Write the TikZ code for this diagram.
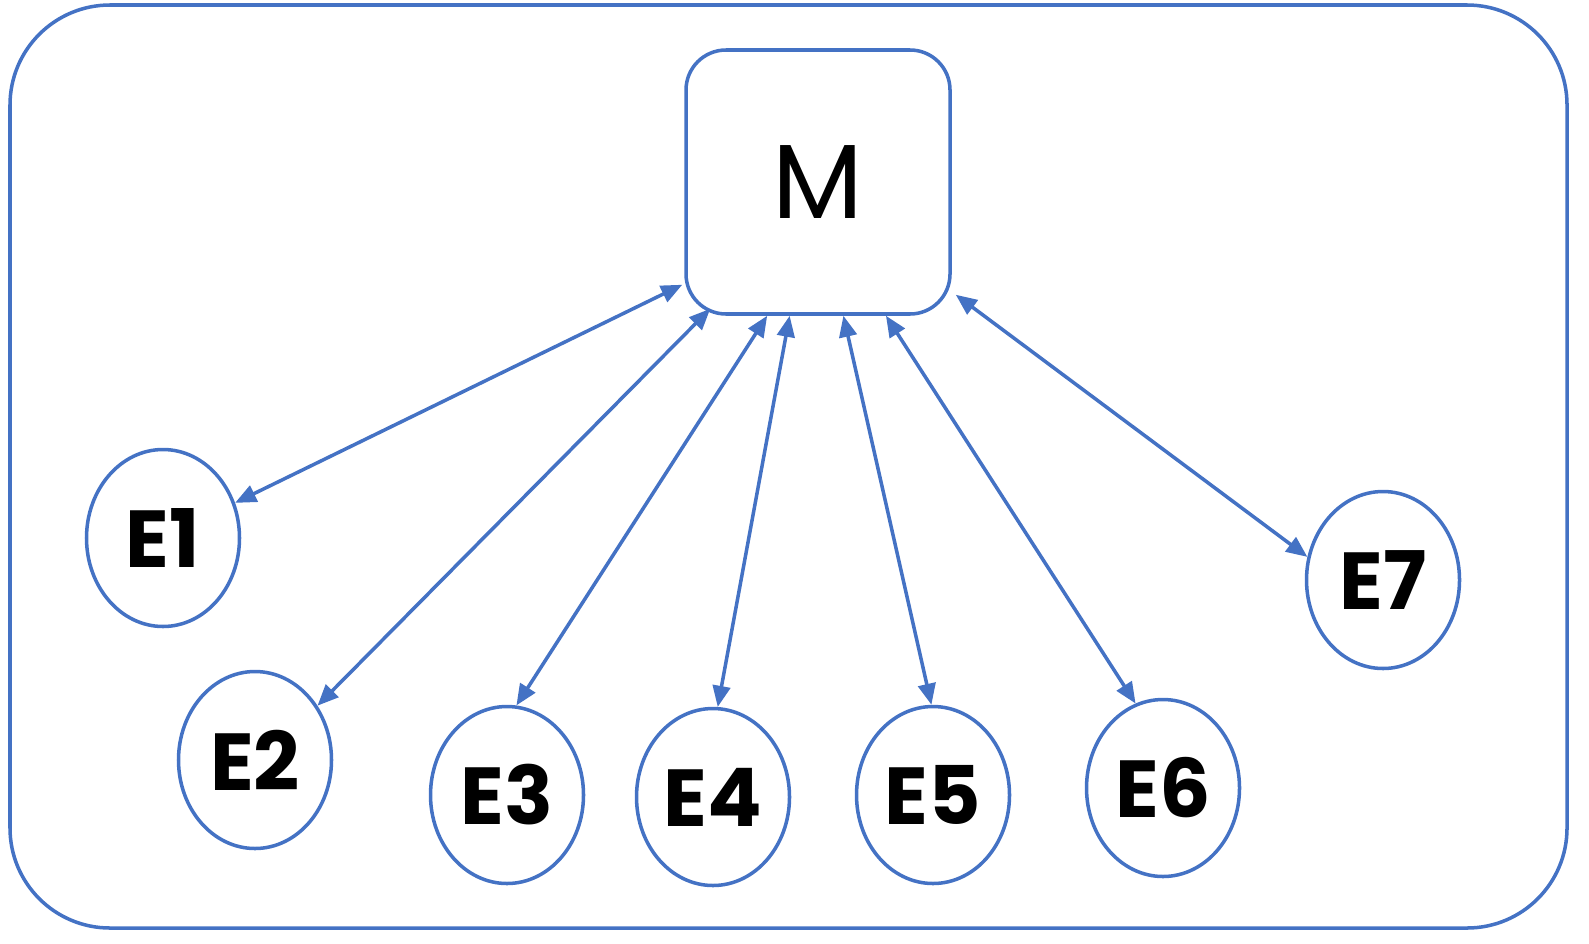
\documentclass[tikz,border=0pt]{standalone}
\usepackage{fontspec}
\setmainfont{Poppins}
\usepackage{tikz}
\usetikzlibrary{positioning, calc, shapes.geometric, arrows.meta}

\definecolor{frameblue}{HTML}{4472C4}

\begin{document}
\begin{tikzpicture}[line width=1pt]
        % Define block styles
        \tikzstyle{master} = [rectangle, draw=frameblue, fill=white, rounded corners=0.4cm, minimum width=2.64cm, minimum height=2.64cm, inner sep=0pt, font=\fontsize{30}{34}\selectfont]
        \tikzstyle{entity} = [ellipse, draw=frameblue, fill=white, minimum width=1.53cm, minimum height=1.77cm, inner sep=0pt, font=\fontsize{23}{27}\selectfont\bfseries]
        \tikzstyle{link} = [draw=frameblue, {Triangle[length=6pt,width=5pt]}-{Triangle[length=6pt,width=5pt]}]

        % Outer frame
        \draw[frameblue, rounded corners=1cm] (0.10,0.15) rectangle (15.67,9.38);

        % Place nodes
        \node [master] (M) at (8.18,7.61) {M};
        \node [entity] (E1) at (1.63,4.05) {E1};
        \node [entity] (E2) at (2.55,1.83) {E2};
        \node [entity] (E3) at (5.07,1.48) {E3};
        \node [entity] (E4) at (7.13,1.46) {E4};
        \node [entity] (E5) at (9.33,1.48) {E5};
        \node [entity] (E6) at (11.63,1.55) {E6};
        \node [entity] (E7) at (13.83,3.63) {E7};

        % Draw connections as arrows
        \draw [link] ($(M.south west)+(-0.02,0.31)$) -- (E1.26);
        \draw [link] ($(M.south west)+(0.26,0.07)$) -- (E2.41);
        \draw [link] ($(M.south west)!0.31!(M.south east)$) -- (E3.84);
        \draw [link] ($(M.south west)!0.394!(M.south east)$) -- (E4.87);
        \draw [link] ($(M.south west)!0.595!(M.south east)$) -- (E5.91);
        \draw [link] ($(M.south west)!0.754!(M.south east)$) -- (E6.108);
        \draw [link] ($(M.south east)+(0.04,0.21)$) -- (E7.163);

        % Fix the page size
        \pgfresetboundingbox
        \useasboundingbox (0,0) rectangle (15.89,9.43);
    \end{tikzpicture}
\end{document}
